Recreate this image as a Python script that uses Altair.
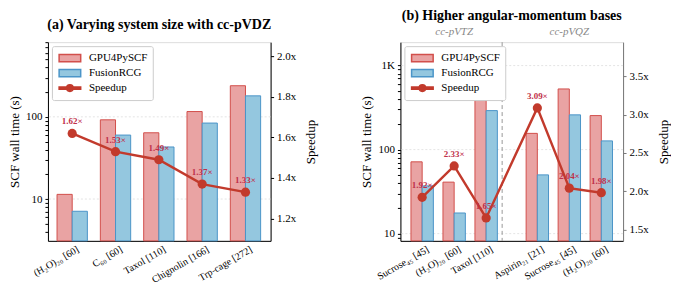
import altair as alt
import pandas as pd

# ---------------- data ----------------
series_names = ["GPU4PySCF", "FusionRCG", "Speedup"]

a_labels = ["(H₂O)₂₀ [60]", "C₆₀ [60]", "Taxol [110]", "Chignolin [166]", "Trp-cage [272]"]
a_gpu = [11.4, 92, 64, 116, 239]
a_fusion = [7.1, 60, 43, 84, 180]
a_speedup = [1.62, 1.53, 1.49, 1.37, 1.33]

b_labels = ["Sucrose₄₅ [45]", "(H₂O)₂₀ [60]", "Taxol [110]", "Aspirin₂₁ [21]", "Sucrose₄₅ [45]", "(H₂O)₂₀ [60]"]
b_basis = ["cc-pVTZ", "cc-pVTZ", "cc-pVTZ", "cc-pVQZ", "cc-pVQZ", "cc-pVQZ"]
b_gpu = [71.5, 41, 450, 156, 527, 254]
b_fusion = [37, 17.6, 291, 50, 259, 127]
b_speedup = [1.92, 2.33, 1.65, 3.09, 2.04, 1.98]

a_right_ticks = [1.2, 1.4, 1.6, 1.8, 2.0]
b_right_ticks = [1.5, 2.0, 2.5, 3.0, 3.5]

# ---------------- style ----------------
FONT = "Liberation Serif"
GPU_FILL, GPU_STROKE = "#e9a3a3", "#d24f4b"
FUS_FILL, FUS_STROKE = "#94c7df", "#4b95c8"
LINE_C = "#c23a2c"
LABEL_C = "#bf3049"
BW = 0.35
W, H = 223, 199

RECT = "M-1.8,-0.6H1.8V0.6H-1.8Z"
LINESYM = "M-1.8,-0.2H1.8V0.2H-1.8Z M0.55,0A0.55,0.55,0,1,1,-0.55,0A0.55,0.55,0,1,1,0.55,0Z"


def minor_log_ticks(lo, hi):
    vals = []
    d = 1
    while d <= hi:
        for m in range(1, 10):
            v = m * d
            if lo <= v <= hi:
                vals.append(v)
        d *= 10
    return vals


def panel(labels, gpu, fusion, speedup, positions, xdom, ydom, rdom, rticks,
          decades, title, title_offset, extra_layers=(), right_color="black"):
    df = pd.DataFrame({
        "label": labels, "gpu": gpu, "fusion": fusion,
        "speedup": speedup, "pos": positions,
    })
    base = alt.Chart(df)
    label_expr = "[" + ",".join("'" + l + "'" for l in labels) + "][indexof([" + \
        ",".join(str(p) for p in positions) + "], datum.value)]"
    dec_expr = " : ".join(
        f"datum.value == {d} ? '{('1K' if d == 1000 else str(d))}'" for d in decades) + " : ''"

    xenc = alt.X("x0:Q", scale=alt.Scale(domain=xdom, nice=False, zero=False),
                 axis=alt.Axis(values=positions, labelExpr=label_expr, title=None,
                               labelAngle=-30, labelAlign="right", labelBaseline="top",
                               tickSize=0, grid=False, labelFontSize=10, labelFont=FONT,
                               labelPadding=3, labelOffset=3, domainColor="black",
                               labelColor="black",
                               labelFlush=False, labelOverlap=False, labelBound=False))
    yscale = alt.Scale(type="log", domain=ydom, nice=False)
    yaxis = alt.Axis(values=minor_log_ticks(ydom[0], ydom[1]), labelExpr=dec_expr,
                     title="SCF wall time (s)", titleFont=FONT, titleFontSize=13,
                     titleFontWeight="normal", titleColor="black",
                     labelFont=FONT, labelFontSize=11, labelColor="black",
                     tickSize=3, tickColor="black", domainColor="black", grid=False,
                     titlePadding=4, labelPadding=3)

    gpu_bars = base.transform_calculate(x0=f"datum.pos - {BW}", x1="datum.pos",
                                        base=f"{ydom[0]}").mark_bar(
        fill=GPU_FILL, stroke=GPU_STROKE, strokeWidth=1).encode(
        x=xenc, x2="x1:Q", y=alt.Y("gpu:Q", scale=yscale, axis=yaxis), y2="base:Q")
    fus_bars = base.transform_calculate(x0="datum.pos", x1=f"datum.pos + {BW}",
                                        base=f"{ydom[0]}").mark_bar(
        fill=FUS_FILL, stroke=FUS_STROKE, strokeWidth=1).encode(
        x=alt.X("x0:Q"), x2="x1:Q", y=alt.Y("fusion:Q"), y2="base:Q")

    grid_df = pd.DataFrame({"g": decades})
    grid = alt.Chart(grid_df).mark_rule(color="#dddddd", strokeDash=[2, 2], strokeWidth=0.8).encode(
        y=alt.Y("g:Q"))

    left = alt.layer(grid, gpu_bars, fus_bars, *extra_layers)

    rscale = alt.Scale(domain=rdom, nice=False, zero=False)
    raxis = alt.Axis(orient="right", values=rticks,
                     labelExpr="format(datum.value, '.1f') + 'x'",
                     title="Speedup", titleFont=FONT, titleFontSize=13, titleFontWeight="normal",
                     titleColor="black", titleAngle=-90, titleBaseline="bottom",
                     labelFont=FONT, labelFontSize=11, labelColor="black",
                     tickSize=3, tickColor=right_color, domainColor=right_color, grid=False,
                     titlePadding=22, labelPadding=3)
    line = base.transform_calculate(x0="datum.pos").mark_line(color=LINE_C, strokeWidth=2.4).encode(
        x=alt.X("x0:Q"), y=alt.Y("speedup:Q", scale=rscale, axis=raxis))
    pts = base.transform_calculate(x0="datum.pos").mark_point(
        filled=True, color=LINE_C, size=85, opacity=1).encode(
        x=alt.X("x0:Q"), y=alt.Y("speedup:Q"))
    txt = base.transform_calculate(x0="datum.pos",
                                   t="format(datum.speedup, '.2f') + '×'").mark_text(
        font=FONT, fontSize=9, fontWeight="bold", color=LABEL_C, dy=-12).encode(
        x=alt.X("x0:Q"), y=alt.Y("speedup:Q"), text="t:N")
    right = alt.layer(line, pts, txt)

    leg_df = pd.DataFrame({"series": series_names})
    legend = alt.Chart(leg_df).transform_filter("false").mark_point(
        filled=True, opacity=1, strokeWidth=1).encode(
        fill=alt.Fill("series:N", scale=alt.Scale(domain=series_names,
                                                   range=[GPU_FILL, FUS_FILL, LINE_C]),
                      legend=alt.Legend(title=None, orient="top-left", offset=4,
                                        symbolSize=144, symbolOffset=6,
                                        labelFont=FONT, labelFontSize=11, labelColor="black",
                                        labelOffset=12, rowPadding=1,
                                        padding=5, strokeColor="#cccccc", fillColor="white",
                                        cornerRadius=2, labelLimit=200)),
        stroke=alt.Stroke("series:N", scale=alt.Scale(domain=series_names,
                                                       range=[GPU_STROKE, FUS_STROKE, LINE_C]),
                          legend=alt.Legend(title=None)),
        shape=alt.Shape("series:N", scale=alt.Scale(domain=series_names,
                                                     range=[RECT, RECT, LINESYM]),
                        legend=alt.Legend(title=None)),
    )

    ch = alt.layer(left, right, legend).resolve_scale(y="independent").properties(
        width=W, height=H,
        title=alt.TitleParams(title, font=FONT, fontSize=14, fontWeight="bold", color="black",
                              anchor="middle", frame="group", offset=title_offset))
    return ch


a_pos = list(range(len(a_labels)))
chart_a = panel(a_labels, a_gpu, a_fusion, a_speedup, a_pos,
                [-0.56, 4.58], [3.1, 810], [1.09, 2.07], a_right_ticks, [10, 100],
                "(a)  Varying system size with cc-pVDZ", 10)

GAP = 0.6
b_pos = [i + (GAP if i >= 3 else 0) for i in range(len(b_labels))]
basis_names = ["cc-pVTZ", "cc-pVQZ"]
basis_center = [sum(p for p, b in zip(b_pos, b_basis) if b == n) / b_basis.count(n) for n in basis_names]
basis_df = pd.DataFrame({"basis": basis_names, "c": basis_center})
basis_txt = alt.Chart(basis_df).mark_text(font=FONT, fontSize=11, fontStyle="italic",
                                          color="#888888").encode(
    x=alt.X("c:Q"), y=alt.value(-10), text="basis:N")
sep_df = pd.DataFrame({"s": [2.5]})
sep = alt.Chart(sep_df).mark_rule(color="#999999", strokeDash=[4, 3], strokeWidth=1).encode(
    x=alt.X("s:Q"))

chart_b = panel(b_labels, b_gpu, b_fusion, b_speedup, b_pos,
                [-0.68, 6.28], [8.2, 1900], [1.35, 3.95], b_right_ticks, [10, 100, 1000],
                "(b)  Higher angular-momentum bases", 3, extra_layers=(sep, basis_txt),
                right_color="#777777")

chart = alt.hconcat(chart_a, chart_b, spacing=42).resolve_scale(
    fill="independent", stroke="independent", shape="independent").resolve_legend(
    fill="independent", stroke="independent", shape="independent").configure_view(
    stroke="black", strokeWidth=1.2).configure(padding=0, background="white")

chart.save("out.html", embed_options={"renderer": "svg", "actions": False})
